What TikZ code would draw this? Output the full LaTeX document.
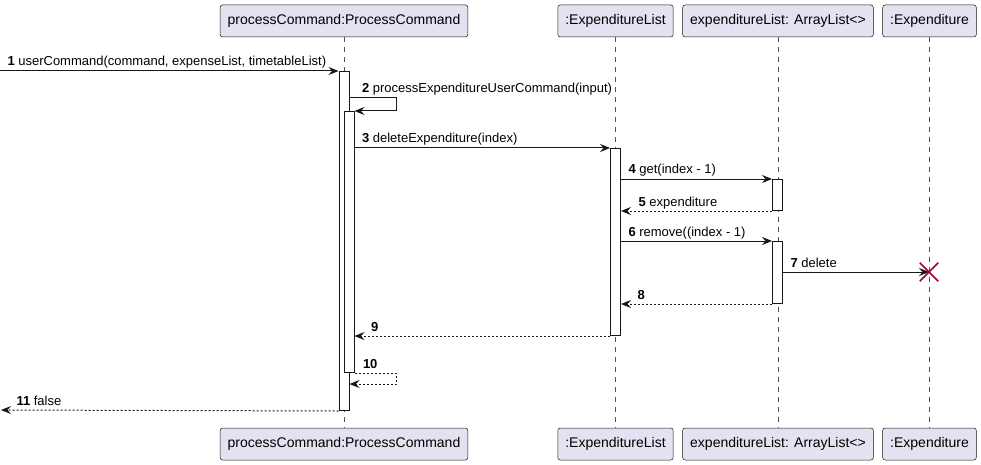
\documentclass[tikz,border=0pt]{standalone}
\usepackage{fontspec}
\setmainfont{Liberation Sans}
\usepackage{xcolor}
\usetikzlibrary{arrows.meta, shapes.misc, positioning}

\definecolor{boxfill}{HTML}{E2E2F0}
\definecolor{inkline}{HTML}{181818}
\definecolor{killred}{HTML}{A80036}

\begin{document}
\begin{tikzpicture}[x=1pt, y=-1pt,
    part/.style={draw=inkline, line width=0.5pt, fill=boxfill, rounded corners=2.5pt,
        minimum height=32pt, inner xsep=7.5pt, font=\fontsize{14}{16}\selectfont},
    life/.style={draw=inkline!75, line width=0.6pt, dash pattern=on 5pt off 5pt},
    bar/.style={draw=inkline, line width=1pt, fill=white, minimum width=10pt,
        inner sep=0pt, anchor=north},
    msg/.style={draw=inkline, line width=1pt,
        -{Stealth[length=10pt, width=8pt, inset=3.5pt]}},
    ret/.style={msg, dash pattern=on 2pt off 2pt},
    lbl/.style={font=\fontsize{13}{15}\selectfont, anchor=base west, inner sep=0pt,
        yshift=5pt}]
    \useasboundingbox (0,0) rectangle (981,465);

    % Participants
    \node[part] (pcTop) at (344,21) {processCommand:ProcessCommand};
    \node[part] (elTop) at (615.5,21) {:ExpenditureList};
    \node[part] (alTop) at (778,21) {expenditureList: ArrayList<>};
    \node[part] (exTop) at (929.5,21) {:Expenditure};
    \node[part] (pcBot) at (344,444) {processCommand:ProcessCommand};
    \node[part] (elBot) at (615.5,444) {:ExpenditureList};
    \node[part] (alBot) at (778,444) {expenditureList: ArrayList<>};
    \node[part] (exBot) at (929.5,444) {:Expenditure};

    % Lifelines
    \draw[life] (pcTop) -- (pcBot);
    \draw[life] (elTop) -- (elBot);
    \draw[life] (alTop) -- (alBot);
    \draw[life] (exTop) -- (exBot);

    % Activations
    \node[bar, minimum height=339pt] (pcAct) at (344,71) {};
    \node[bar, minimum height=261pt] (pcAct2) at (349,111) {};
    \node[bar, minimum height=187pt] (elAct) at (615.5,148) {};
    \node[bar, minimum height=31pt] (alAct) at (777.5,179) {};
    \node[bar, minimum height=62pt] (alAct2) at (777.5,241) {};

    % Message points
    \coordinate (in1) at (0,71);
    \coordinate (s2) at (396,98);
    \coordinate (m3) at (0,148);
    \coordinate (m4) at (0,179);
    \coordinate (m6) at (0,241);
    \coordinate (exEnd) at (929,272);
    \coordinate (s10) at (396,384);
    \coordinate (out11) at (1,410);

    % Messages
    \draw[msg] (in1) -- node[lbl, pos=0, xshift=7pt]
        {\textbf{1} userCommand(command, expenseList, timetableList)} (pcAct.north west);
    \draw[msg] (pcAct.east |- s2) -- node[lbl, pos=0, xshift=12pt]
        {\textbf{2} processExpenditureUserCommand(input)} (s2) |- (pcAct2.north east);
    \draw[msg] (pcAct2.east |- m3) -- node[lbl, pos=0, xshift=7pt]
        {\textbf{3} deleteExpenditure(index)} (elAct.north west);
    \draw[msg] (elAct.east |- m4) -- node[lbl, pos=0, xshift=7pt]
        {\textbf{4} get(index - 1)} (alAct.north west);
    \draw[ret] (alAct.south west) -- node[lbl, pos=1, xshift=17pt]
        {\textbf{5} expenditure} (elAct.east |- alAct.south west);
    \draw[msg] (elAct.east |- m6) -- node[lbl, pos=0, xshift=7pt]
        {\textbf{6} remove((index - 1)} (alAct2.north west);
    \draw[msg] (alAct2.east |- exEnd) -- node[lbl, pos=0, xshift=7pt]
        {\textbf{7} delete} (exEnd);
    \draw[ret] (alAct2.south west) -- node[lbl, pos=1, xshift=16pt]
        {\textbf{8}} (elAct.east |- alAct2.south west);
    \draw[ret] (elAct.south west) -- node[lbl, pos=1, xshift=16pt]
        {\textbf{9}} (pcAct2.east |- elAct.south west);
    \draw[ret] (pcAct2.south east) -- node[lbl, pos=0, xshift=8pt]
        {\textbf{10}} (s10 |- pcAct2.south east) -- (s10) -- (pcAct.east |- s10);
    \draw[ret] (pcAct.south west) -- node[lbl, pos=1, xshift=15pt]
        {\textbf{11} false} (out11);

    % Destroyed object
    \node[cross out, draw=killred, line width=1.5pt, minimum size=17pt, inner sep=0pt]
        (exDel) at (exEnd) {};
\end{tikzpicture}
\end{document}
